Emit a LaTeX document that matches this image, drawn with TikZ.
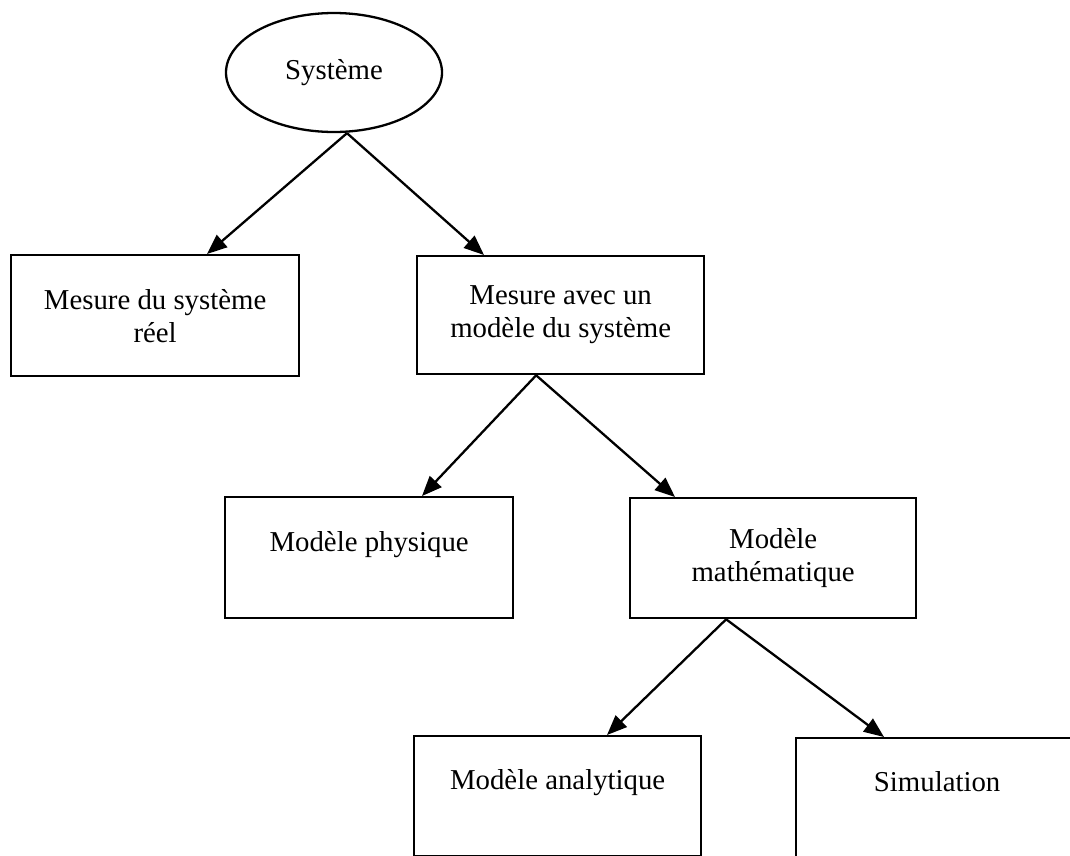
\documentclass[tikz,border=0pt]{standalone}
\usepackage{fontspec}
\setmainfont{Liberation Serif}
\usetikzlibrary{shapes.geometric,arrows.meta}
\begin{document}
\begin{tikzpicture}[x=1pt,y=-1pt,
  every node/.style={font={\fontsize{28.8pt}{33pt}\selectfont}},
  box/.style={draw, line width=2.3pt, rectangle, anchor=north west,
    align=center, inner sep=0pt},
  link/.style={line width=2.3pt, -{Triangle[length=20pt,width=16pt]}}]
  \clip (0,0) rectangle (1070,855);

  % root of the classification
  \node[draw, ellipse, line width=2.3pt, minimum width=216pt, minimum height=119pt,
    inner sep=0pt] (sys) at (334,72.5) {Système};

  % first level
  \node[box, minimum width=288pt, minimum height=121pt] (m1) at (10,254)
    {Mesure du système\\réel};
  \node[box, minimum width=287pt, minimum height=118pt] (m2) at (416,255)
    {Mesure avec un\\modèle du système};

  % second level
  \node[box, minimum width=288pt, minimum height=121pt] (m3) at (224,496)
    {Modèle physique\\\mbox{}};
  \node[box, minimum width=286pt, minimum height=120pt] (m4) at (629,497)
    {Modèle\\mathématique};

  % third level
  \node[box, minimum width=287pt, minimum height=120pt] (m5) at (413,735)
    {Modèle analytique\\\mbox{}};
  \node[box, minimum width=282pt, minimum height=120pt] (m6) at (795,737)
    {Simulation\\\mbox{}};

  % connectors
  \draw[link] ([xshift=13pt]sys.south) -- ([xshift=197pt]m1.north west);
  \draw[link] ([xshift=13pt]sys.south) -- ([xshift=68pt]m2.north west);
  \draw[link] ([xshift=-24.5pt]m2.south) -- ([xshift=198pt]m3.north west);
  \draw[link] ([xshift=-24.5pt]m2.south) -- ([xshift=46pt]m4.north west);
  \draw[link] ([xshift=-47pt]m4.south) -- ([xshift=194pt]m5.north west);
  \draw[link] ([xshift=-47pt]m4.south) -- ([xshift=89pt]m6.north west);
\end{tikzpicture}
\end{document}
